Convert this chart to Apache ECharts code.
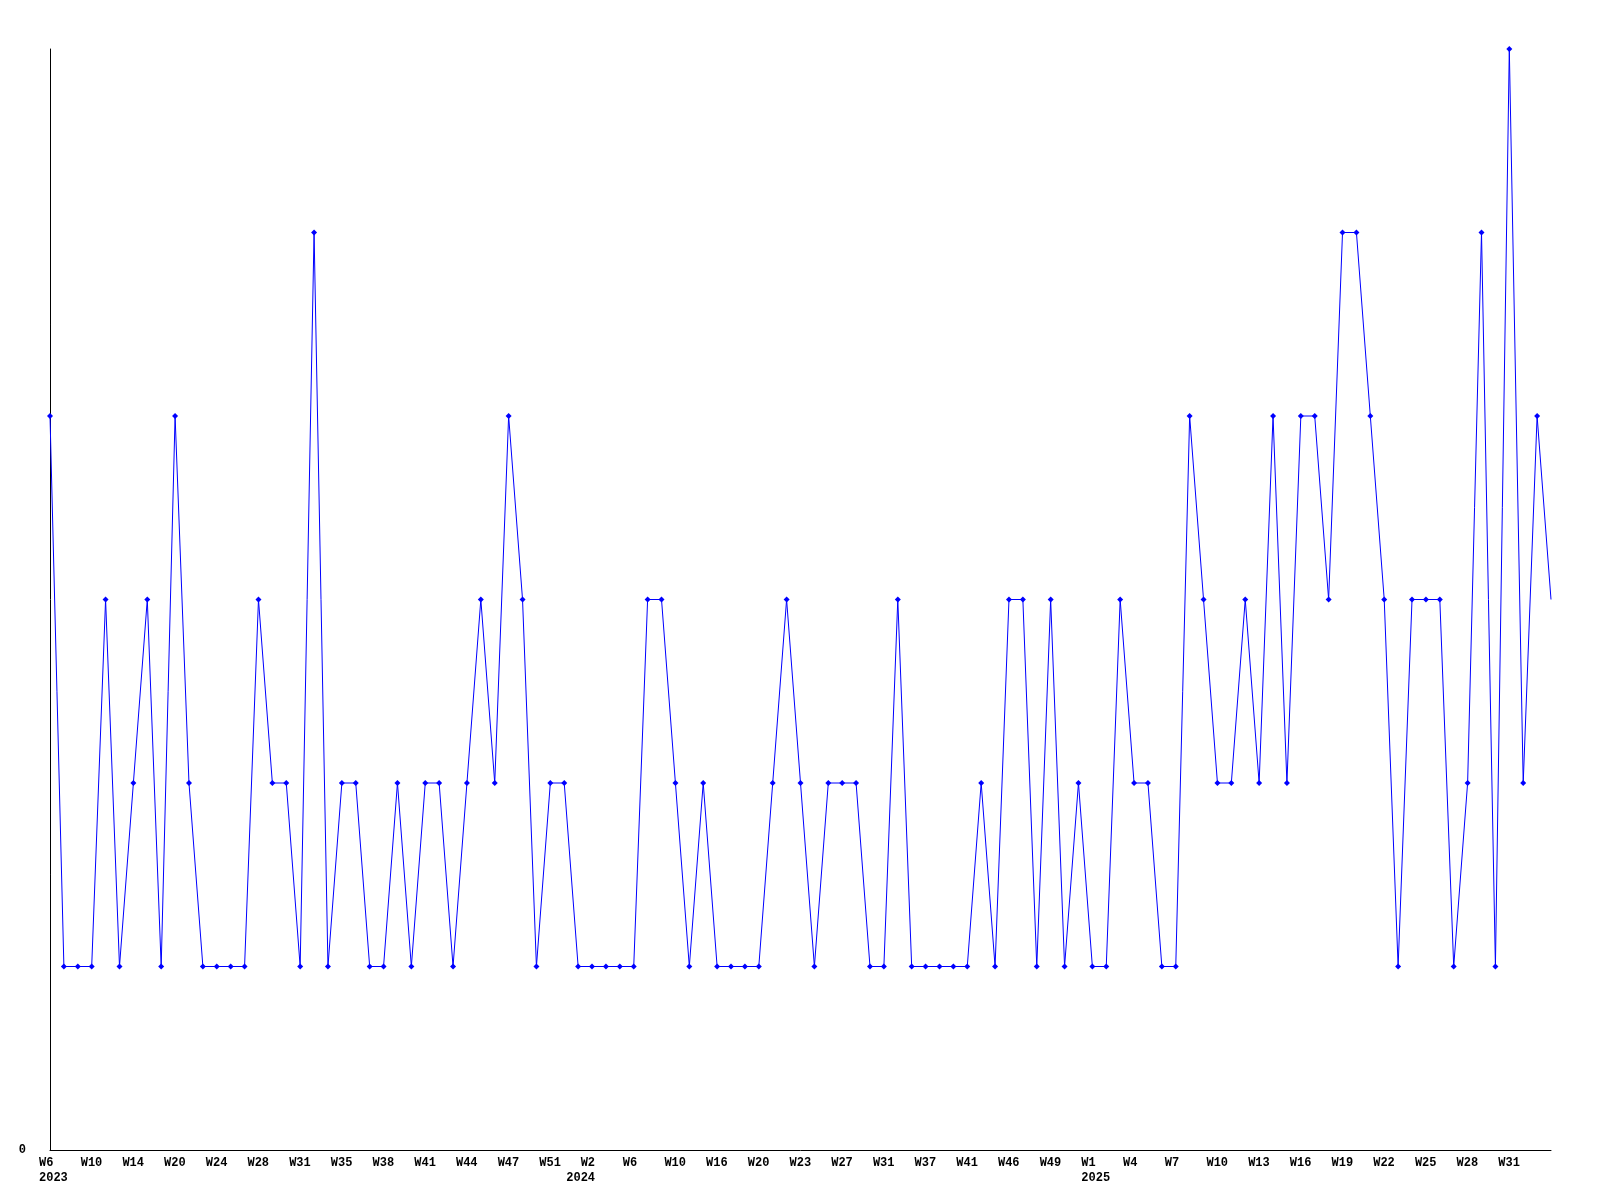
<!DOCTYPE html>
<html>
<head>
<meta charset="utf-8">
<script src="https://cdn.jsdelivr.net/npm/echarts@6/dist/echarts.min.js"></script>
<style>
html,body{margin:0;padding:0;background:#fff;}
#chart{width:1600px;height:1200px;}
</style>
</head>
<body>
<div id="chart"></div>
<script>
// Week categories (year-week)
const categories = [
  '2023-W6','2023-W7','2023-W9','2023-W10','2023-W11','2023-W12','2023-W14','2023-W16','2023-W18','2023-W20',
  '2023-W21','2023-W22','2023-W24','2023-W25','2023-W27','2023-W28','2023-W29','2023-W30','2023-W31','2023-W32',
  '2023-W34','2023-W35','2023-W36','2023-W37','2023-W38','2023-W39','2023-W40','2023-W41','2023-W42','2023-W43',
  '2023-W44','2023-W45','2023-W46','2023-W47','2023-W48','2023-W50','2023-W51','2023-W52',
  '2024-W1','2024-W2','2024-W3','2024-W5','2024-W6','2024-W7','2024-W8','2024-W10','2024-W12','2024-W14',
  '2024-W16','2024-W17','2024-W18','2024-W20','2024-W21','2024-W22','2024-W23','2024-W24','2024-W26','2024-W27',
  '2024-W28','2024-W30','2024-W31','2024-W33','2024-W35','2024-W37','2024-W38','2024-W40','2024-W41','2024-W43',
  '2024-W44','2024-W46','2024-W47','2024-W48','2024-W49','2024-W51','2024-W52',
  '2025-W1','2025-W2','2025-W3','2025-W4','2025-W5','2025-W6','2025-W7','2025-W8','2025-W9','2025-W10',
  '2025-W11','2025-W12','2025-W13','2025-W14','2025-W15','2025-W16','2025-W17','2025-W18','2025-W19','2025-W20',
  '2025-W21','2025-W22','2025-W23','2025-W24','2025-W25','2025-W26','2025-W27','2025-W28','2025-W29','2025-W30',
  '2025-W31','2025-W32','2025-W33','2025-W34'
];
const values = [
  4,1,1,1,3,1,2,3,1,4,2,1,1,1,1,3,2,2,1,5,
  1,2,2,1,1,2,1,2,2,1,2,3,2,4,3,1,2,2,1,1,
  1,1,1,3,3,2,1,2,1,1,1,1,2,3,2,1,2,2,2,1,
  1,3,1,1,1,1,1,2,1,3,3,1,3,1,2,1,1,3,2,2,
  1,1,4,3,2,2,3,2,4,2,4,4,3,5,5,4,3,1,3,3,
  3,1,2,5,1,6,2,4,3
];
const yTicks = [0];

const years = categories.map(c => c.split('-')[0]);
const weeks = categories.map(c => c.split('-')[1]);
const LABEL_STEP = 3;
const lastIdx = categories.length - 1;

// which labelled ticks show the year (first labelled tick of each year)
const showYear = {};
let prevYear = null;
for (let i = 0; i < categories.length; i += LABEL_STEP) {
  if (years[i] !== prevYear) { showYear[i] = true; prevYear = years[i]; }
}
// rich style used for each year block
const yearStyle = {'2023': 'n', '2024': 'yr', '2025': 'n'};

const seriesData = values.map((v, i) => i === lastIdx ? {value: v, symbol: 'none'} : v);

const chart = echarts.init(document.getElementById('chart'), null, {renderer: 'canvas'});
const FONT = '"Liberation Mono", "DejaVu Sans Mono", monospace';
const base = {fontFamily: FONT, fontWeight: 'bold', fontSize: 12, lineHeight: 15, color: '#000'};
chart.setOption({
  animation: false,
  backgroundColor: '#ffffff',
  grid: {left: 50, right: 49, top: 49, bottom: 50, containLabel: false},
  xAxis: {
    type: 'category',
    data: categories,
    boundaryGap: false,
    axisLine: {show: true, lineStyle: {color: '#000', width: 1}},
    axisTick: {show: false},
    splitLine: {show: false},
    axisLabel: {
      interval: function (idx) { return idx % LABEL_STEP === 0 && idx < lastIdx; },
      margin: 5,
      color: '#000',
      fontFamily: FONT,
      fontWeight: 'bold',
      fontSize: 12,
      lineHeight: 15,
      formatter: function (value, idx) {
        const w = weeks[idx];
        if (showYear[idx]) {
          const s = yearStyle[years[idx]] || 'n';
          return '{' + s + '|' + w + '}\n{' + s + '|' + years[idx] + '}';
        }
        return '{n|' + w + '}';
      },
      rich: {
        n: Object.assign({align: 'left', width: 22}, base),
        yr: Object.assign({align: 'right', width: 22, padding: [0, 16, 0, 0]}, base)
      }
    }
  },
  yAxis: {
    type: 'value',
    min: 0,
    max: 6,
    interval: 6,
    axisLine: {show: true, lineStyle: {color: '#000', width: 1}},
    axisTick: {show: false},
    splitLine: {show: false},
    axisLabel: {
      margin: 24,
      color: '#000',
      fontFamily: FONT,
      fontWeight: 'bold',
      fontSize: 12,
      formatter: function (v) { return yTicks.indexOf(v) >= 0 ? String(v) : ''; }
    }
  },
  series: [{
    type: 'line',
    data: seriesData,
    symbol: 'diamond',
    symbolSize: 6,
    showAllSymbol: true,
    lineStyle: {color: '#0000ff', width: 1},
    itemStyle: {color: '#0000ff'},
    clip: false
  }]
});
</script>
</body>
</html>
